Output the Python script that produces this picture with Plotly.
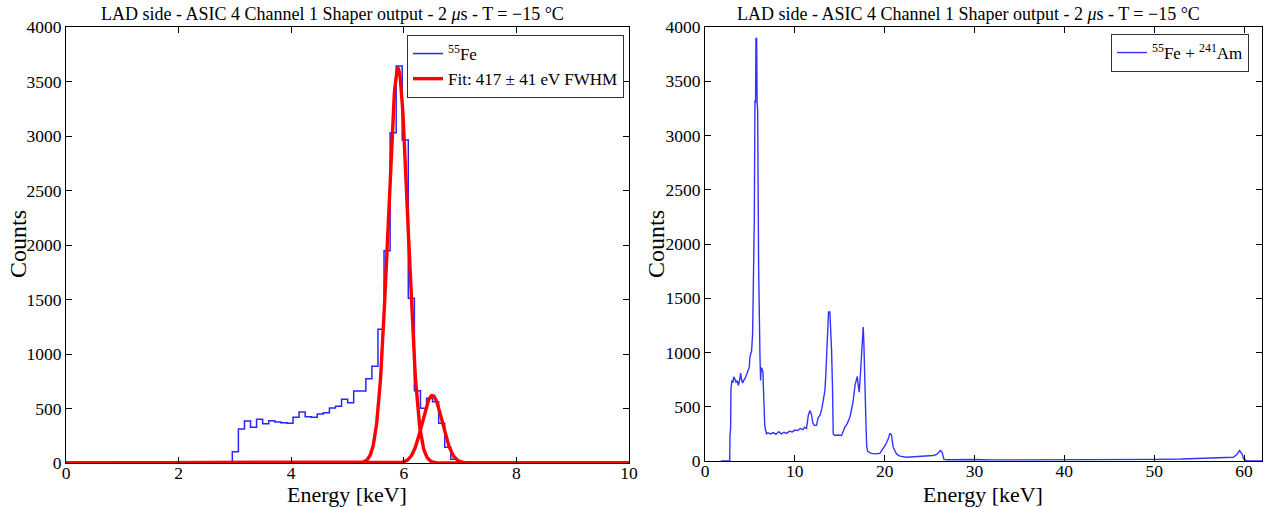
import numpy as np
import plotly.graph_objects as go

# ---------------- data: left panel (55Fe histogram + fit) ----------------
fe_bin_edges = [2.954, 3.062, 3.170, 3.277, 3.385, 3.493, 3.601, 3.709, 3.816, 3.924,
                4.032, 4.140, 4.248, 4.355, 4.463, 4.571, 4.679, 4.787, 4.894, 5.002,
                5.110, 5.218, 5.326, 5.433, 5.541, 5.649, 5.757, 5.865, 5.972, 6.080,
                6.188, 6.296, 6.404, 6.511, 6.619, 6.727, 6.835, 6.943]
fe_counts = [104, 312, 385, 327, 401, 361, 388, 376, 370, 364,
             419, 468, 425, 419, 450, 462, 505, 520, 584, 553,
             660, 660, 773, 887, 1226, 1948, 3030, 3642, 2963, 1511,
             663, 502, 593, 562, 364, 144, 34]

# Gaussian fit parameters (amplitude, centre keV, sigma keV)
fit_amplitudes = [3620, 620]
fit_centres = [5.897, 6.507]
fit_sigmas = [0.177, 0.177]

# ---------------- data: right panel (55Fe + 241Am spectrum) ----------------
am_energy = [1.8, 2.75, 2.78, 2.85, 2.89, 3.0, 3.1, 3.2, 3.3, 3.45, 3.6, 3.7, 3.85, 3.97,
             4.05, 4.19, 4.3, 4.45, 4.6, 4.71, 4.8, 4.93, 5.0, 5.1, 5.19, 5.3, 5.37, 5.45,
             5.49, 5.56, 5.63, 5.67, 5.75, 5.8, 5.86, 5.97, 6.04, 6.12, 6.19, 6.25, 6.35,
             6.45, 6.49, 6.56, 6.65, 6.75, 6.86,
             7.0, 7.3, 7.6, 7.9, 8.2, 8.5, 8.8, 9.1, 9.4, 9.7, 10.0, 10.3, 10.6, 10.9,
             11.1, 11.3, 11.5, 11.68, 11.85, 12.0, 12.2, 12.42, 12.6, 12.8, 13.0, 13.2,
             13.35, 13.45, 13.53, 13.65, 13.75, 13.9, 14.0, 14.09, 14.2, 14.27, 14.46,
             14.8, 15.2, 15.57, 15.8, 16.13, 16.3, 16.5, 16.7, 16.87, 16.95, 17.05, 17.17,
             17.3, 17.43, 17.55, 17.61, 17.68, 17.75, 17.8, 17.9, 18.0, 18.1, 18.5, 19.0,
             19.46, 19.83, 20.1, 20.4, 20.58, 20.75, 20.95, 21.32, 21.7, 22.4, 23.5, 24.5,
             25.0, 25.4, 25.8, 26.2, 26.4, 26.6, 27.0, 28.5, 30.0, 32.0, 35.0, 37.5, 40.0,
             42.5, 45.0, 47.5, 50.0, 53.0, 55.0, 57.0, 58.8, 59.2, 59.5, 59.8, 59.95,
             60.3, 62.0]
am_counts = [0, 0, 235, 300, 666, 743, 720, 775, 760, 727, 740, 696, 740, 810,
             760, 718, 740, 758, 790, 819, 850, 865, 958, 980, 1019, 1173, 1511, 1700,
             2234, 3326, 3300, 3895, 3895, 3300, 3233, 1773, 1200, 958, 743, 860, 850,
             820, 700, 435, 330, 281, 251,
             260, 250, 262, 245, 270, 250, 265, 255, 275, 268, 285, 280, 300, 290,
             312, 300, 420, 466, 430, 350, 327, 330, 400, 420, 480, 560,
             651, 800, 989, 1200, 1373, 1373, 1200, 1019, 650, 250, 235,
             240, 235, 312, 340, 404, 470, 558, 700, 773, 780, 700, 635,
             800, 989, 1150, 1235, 1100, 743, 743, 400, 130, 90, 70, 66,
             70, 111, 150, 204, 255, 240, 127, 65, 45, 35, 40, 45,
             45, 51, 60, 97, 80, 15, 12, 14, 14, 10, 10, 13, 15,
             12, 12, 14, 15, 18, 22, 28, 35, 60, 97, 60, 20,
             3, 0]

left_ticks_x = [0, 2, 4, 6, 8, 10]
right_ticks_x = [0, 10, 20, 30, 40, 50, 60]
ticks_y = [0, 500, 1000, 1500, 2000, 2500, 3000, 3500, 4000]

title_text = "LAD side - ASIC 4 Channel 1 Shaper output - 2 <i>μ</i>s - T = −15 °C"

# ---------------- figure ----------------
W, H = 1270, 508
FONT = "Liberation Serif, DejaVu Serif, serif"

def px_x(p):
    return p / W

def px_y(p):
    return (H - p) / H

fig = go.Figure()

# left histogram (step)
hx = [0.0] + fe_bin_edges + [10.0]
hy = [0] + fe_counts + [0, 0]
fig.add_trace(go.Scatter(x=hx, y=hy, mode="lines", line=dict(color="rgba(0,0,255,0.85)", width=1.5, shape="hv"),
                         name="<sup>55</sup>Fe", xaxis="x", yaxis="y", legend="legend"))

# fit curves (two Gaussian components)
xf = np.linspace(0, 10, 1001)
for i, (a, m, s) in enumerate(zip(fit_amplitudes, fit_centres, fit_sigmas)):
    yf = a * np.exp(-0.5 * ((xf - m) / s) ** 2)
    fig.add_trace(go.Scatter(x=xf, y=yf, mode="lines", line=dict(color="#ff0000", width=3.4),
                             name="Fit: 417 ± 41 eV FWHM", showlegend=(i == 0),
                             xaxis="x", yaxis="y", legend="legend"))

# right spectrum
fig.add_trace(go.Scatter(x=am_energy, y=am_counts, mode="lines",
                         line=dict(color="rgba(0,0,255,0.8)", width=1.4),
                         name="<sup>55</sup>Fe + <sup>241</sup>Am", xaxis="x2", yaxis="y2", legend="legend2"))

axis_common = dict(showline=True, linecolor="black", linewidth=1, mirror="ticks",
                   ticks="inside", ticklen=6, tickcolor="black", tickwidth=1,
                   showgrid=False, zeroline=False, automargin=False,
                   tickfont=dict(family=FONT, size=17.5, color="black"))

fig.update_layout(
    width=W, height=H,
    paper_bgcolor="white", plot_bgcolor="white",
    margin=dict(l=0, r=0, t=0, b=0, autoexpand=False),
    font=dict(family=FONT, color="black"),
    xaxis=dict(domain=[px_x(66), px_x(629)], range=[0, 10], tickvals=left_ticks_x, anchor="y",
               ticklabelstandoff=-6, **axis_common),
    yaxis=dict(domain=[px_y(463), px_y(27)], range=[0, 4000], tickvals=ticks_y, anchor="x", **axis_common),
    xaxis2=dict(domain=[px_x(705), px_x(1262)], range=[0, 62], tickvals=right_ticks_x, anchor="y2",
                ticklabelstandoff=-6, **axis_common),
    yaxis2=dict(domain=[px_y(461), px_y(27)], range=[0, 4000], tickvals=ticks_y, anchor="x2", **axis_common),
    legend=dict(x=px_x(407), y=px_y(35), xanchor="left", yanchor="top",
                bordercolor="#333", borderwidth=1, bgcolor="white",
                font=dict(family=FONT, size=17), tracegroupgap=0, itemwidth=30),
    legend2=dict(x=px_x(1111), y=px_y(34), xanchor="left", yanchor="top",
                 bordercolor="#333", borderwidth=1, bgcolor="white",
                 font=dict(family=FONT, size=17), itemwidth=30),
    showlegend=True,
)

annotations = [
    dict(text=title_text, x=px_x(332), y=px_y(14), xref="paper", yref="paper",
         showarrow=False, font=dict(family=FONT, size=18), xanchor="center", yanchor="middle"),
    dict(text=title_text, x=px_x(969), y=px_y(14), xref="paper", yref="paper",
         showarrow=False, font=dict(family=FONT, size=18), xanchor="center", yanchor="middle"),
    dict(text="Energy [keV]", x=px_x(347), y=px_y(494), xref="paper", yref="paper",
         showarrow=False, font=dict(family=FONT, size=22), xanchor="center", yanchor="middle"),
    dict(text="Energy [keV]", x=px_x(983), y=px_y(494), xref="paper", yref="paper",
         showarrow=False, font=dict(family=FONT, size=22), xanchor="center", yanchor="middle"),
    dict(text="Counts", x=px_x(18), y=px_y(244), xref="paper", yref="paper", textangle=-90,
         showarrow=False, font=dict(family=FONT, size=24), xanchor="center", yanchor="middle"),
    dict(text="Counts", x=px_x(656), y=px_y(244), xref="paper", yref="paper", textangle=-90,
         showarrow=False, font=dict(family=FONT, size=24), xanchor="center", yanchor="middle"),
]
fig.update_layout(annotations=annotations)

# remove the default 8 px page margin so the figure fills the window exactly
fig.write_html("out.html", config={"displayModeBar": False},
               post_script="document.body.style.margin='0px';")
